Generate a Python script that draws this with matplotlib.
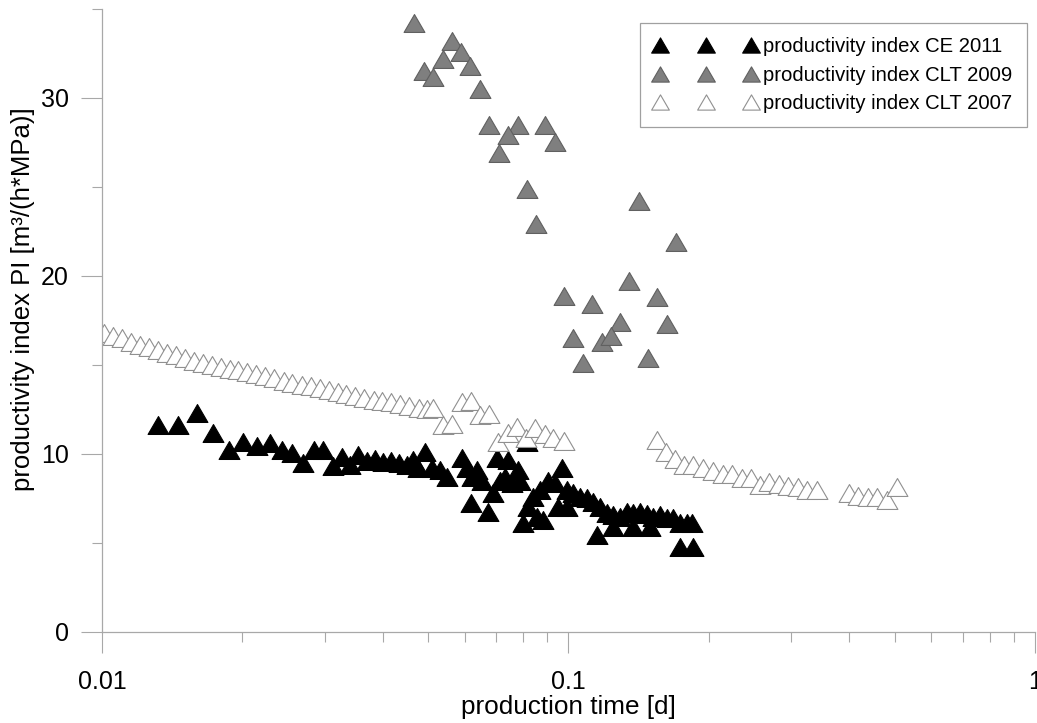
import matplotlib.pyplot as plt
from matplotlib.path import Path
from matplotlib.ticker import LogLocator, FixedLocator, NullFormatter, FixedFormatter

plt.rcParams['font.family'] = ['Liberation Sans', 'DejaVu Sans']

# productivity index CE 2011 (black)
ce2011_t = [0.01318, 0.01455, 0.01598, 0.01729, 0.01872, 0.02006, 0.02149, 0.02292,
            0.02432, 0.02555, 0.02697, 0.02848, 0.02977, 0.03128, 0.03269, 0.03401,
            0.03538, 0.03699, 0.03848, 0.04004, 0.04164, 0.04332, 0.04506, 0.04642,
            0.04758, 0.04925, 0.05098, 0.05303, 0.05489, 0.0591, 0.06059, 0.0621,
            0.06366, 0.06525, 0.0618, 0.06722, 0.06891, 0.07028, 0.0742, 0.07133,
            0.07311, 0.07793, 0.0787, 0.07567, 0.07988, 0.08187, 0.08393, 0.0856,
            0.08817, 0.08688, 0.09038, 0.09356, 0.09685, 0.09495, 0.09926, 0.09926,
            0.1022, 0.1058, 0.1096, 0.1128, 0.1151, 0.1168, 0.1209, 0.1246,
            0.1290, 0.1335, 0.1375, 0.1423, 0.1473, 0.1518, 0.1571, 0.1626,
            0.1675, 0.1734, 0.1795, 0.1839, 0.1734, 0.1849, 0.1246, 0.1375,
            0.1495, 0.0815]
ce2011_pi = [11.6, 11.6, 12.3, 11.2, 10.2, 10.7, 10.45, 10.6,
             10.2, 10.05, 9.5, 10.2, 10.2, 9.3, 9.85, 9.4,
             9.95, 9.6, 9.7, 9.55, 9.6, 9.5, 9.4, 9.65,
             9.2, 10.1, 9.2, 9.1, 8.7, 9.8, 9.2, 8.7,
             9.1, 8.5, 7.25, 6.75, 7.8, 9.8, 9.65, 8.5,
             8.7, 9.1, 8.5, 8.35, 6.1, 7.0, 7.6, 6.45,
             6.3, 8.0, 8.5, 8.35, 9.2, 7.0, 7.0, 8.0,
             7.8, 7.6, 7.5, 7.3, 5.45, 7.0, 6.7, 6.55,
             6.45, 6.75, 6.7, 6.75, 6.6, 6.45, 6.55, 6.4,
             6.4, 6.1, 6.1, 6.1, 4.8, 4.8, 5.9, 5.9,
             5.9, 10.7]

# productivity index CLT 2009 (grey)
clt2009_t = [0.0466, 0.0563, 0.0588, 0.0538, 0.0615, 0.049, 0.0512, 0.0646,
             0.0676, 0.078, 0.0891, 0.0742, 0.0936, 0.071, 0.0815, 0.1416,
             0.0852, 0.170, 0.1348, 0.0978, 0.1548, 0.1123, 0.129, 0.1626,
             0.1022, 0.118, 0.1234, 0.1074, 0.148]
clt2009_pi = [34.2, 33.2, 32.6, 32.2, 31.8, 31.5, 31.2, 30.5,
              28.5, 28.5, 28.5, 27.9, 27.5, 26.9, 24.9, 24.2,
              22.9, 21.9, 19.7, 18.9, 18.8, 18.4, 17.4, 17.3,
              16.5, 16.3, 16.6, 15.1, 15.4]

# productivity index CLT 2007 (white)
clt2007_t = [0.0101, 0.01055, 0.01103, 0.01153, 0.01205, 0.0126, 0.01317, 0.01377,
             0.0144, 0.01505, 0.01573, 0.01645, 0.0172, 0.018, 0.0188, 0.0196,
             0.0205, 0.0214, 0.0224, 0.0234, 0.0245, 0.0256, 0.0268, 0.028,
             0.0293, 0.0306, 0.032, 0.0334, 0.0349, 0.0365, 0.0382, 0.0399,
             0.0417, 0.0436, 0.0456, 0.0477, 0.0498,
             0.0512, 0.0538, 0.0563, 0.0591, 0.0618, 0.0646, 0.0675, 0.0706,
             0.0742, 0.0775, 0.0811, 0.0848, 0.089, 0.0927, 0.0978,
             0.1548, 0.1618, 0.1692, 0.1769, 0.1849, 0.1943, 0.2041, 0.2144,
             0.2241, 0.2355, 0.2462, 0.2574, 0.2691, 0.2827, 0.2955, 0.3105,
             0.3246, 0.341, 0.3993, 0.4174, 0.4385, 0.4585, 0.4817, 0.506]
clt2007_pi = [16.8, 16.65, 16.5, 16.3, 16.15, 16.0, 15.85, 15.7,
              15.55, 15.4, 15.25, 15.1, 15.0, 14.9, 14.8, 14.7,
              14.6, 14.5, 14.4, 14.25, 14.1, 14.0, 13.9, 13.8,
              13.7, 13.6, 13.5, 13.35, 13.25, 13.15, 13.05, 13.0,
              12.9, 12.8, 12.7, 12.6, 12.5,
              12.6, 11.6, 11.7, 12.9, 12.95, 12.2, 12.25, 10.7,
              11.2, 11.5, 10.9, 11.45, 11.1, 10.9, 10.75,
              10.8, 10.1, 9.7, 9.4, 9.4, 9.2, 9.05, 8.9,
              8.9, 8.65, 8.65, 8.25, 8.4, 8.3, 8.2, 8.15,
              8.0, 8.0, 7.8, 7.65, 7.6, 7.6, 7.4, 8.15]

labels = ['productivity index CE 2011', 'productivity index CLT 2009', 'productivity index CLT 2007']

# slightly flat triangle, like the original
tri = Path([(-1, -0.86), (1, -0.86), (0, 0.86), (-1, -0.86)], closed=True)

fig = plt.figure(figsize=(10.37, 7.23), dpi=100)
ax = fig.add_axes([0.0984, 0.1259, 0.8996, 0.8617])

ax.plot(ce2011_t, ce2011_pi, linestyle='none', marker=tri, markersize=15,
        markerfacecolor='black', markeredgecolor='black', markeredgewidth=0.8, label=labels[0])
ax.plot(clt2009_t, clt2009_pi, linestyle='none', marker=tri, markersize=15,
        markerfacecolor='#7f7f7f', markeredgecolor='#606060', markeredgewidth=0.8, label=labels[1])
ax.plot(clt2007_t, clt2007_pi, linestyle='none', marker=tri, markersize=15,
        markerfacecolor='white', markeredgecolor='#909090', markeredgewidth=0.8, label=labels[2])

ax.set_xscale('log')
ax.set_xlim(0.01, 1)
ax.set_ylim(0, 35)

ax.xaxis.set_major_locator(FixedLocator([0.01, 0.1, 1]))
ax.xaxis.set_major_formatter(FixedFormatter(['0.01', '0.1', '1']))
ax.xaxis.set_minor_locator(LogLocator(base=10, subs=range(2, 10)))
ax.xaxis.set_minor_formatter(NullFormatter())
ax.yaxis.set_major_locator(FixedLocator([0, 10, 20, 30]))
ax.yaxis.set_minor_locator(FixedLocator([5, 15, 25, 35]))

for side in ['top', 'right']:
    ax.spines[side].set_visible(False)
for side in ['left', 'bottom']:
    ax.spines[side].set_color('#a8a8a8')
    ax.spines[side].set_linewidth(0.9)

ax.tick_params(which='major', direction='out', length=15, width=0.8, color='#a8a8a8',
               labelsize=18, labelcolor='black')
ax.tick_params(which='minor', direction='out', length=7.5, width=0.8, color='#a8a8a8')
ax.tick_params(axis='x', which='major', pad=12.5)
ax.tick_params(axis='y', which='major', pad=9)

ax.set_xlabel('production time [d]', fontsize=18.8, labelpad=0.5)
ax.set_ylabel('productivity index PI [m³/(h*MPa)]', fontsize=18.5)
ax.yaxis.set_label_coords(-0.0718, 0.5345)

leg = ax.legend(loc='upper right', bbox_to_anchor=(0.9914, 0.9775), borderaxespad=0,
                numpoints=3, markerscale=0.85, fontsize=14.6, handlelength=5.1,
                handletextpad=0.3, labelspacing=0.47, borderpad=0.7,
                fancybox=False, framealpha=1)
leg.get_frame().set_edgecolor('#a0a0a0')
leg.get_frame().set_linewidth(0.9)

fig.savefig('out.png', dpi=100)
